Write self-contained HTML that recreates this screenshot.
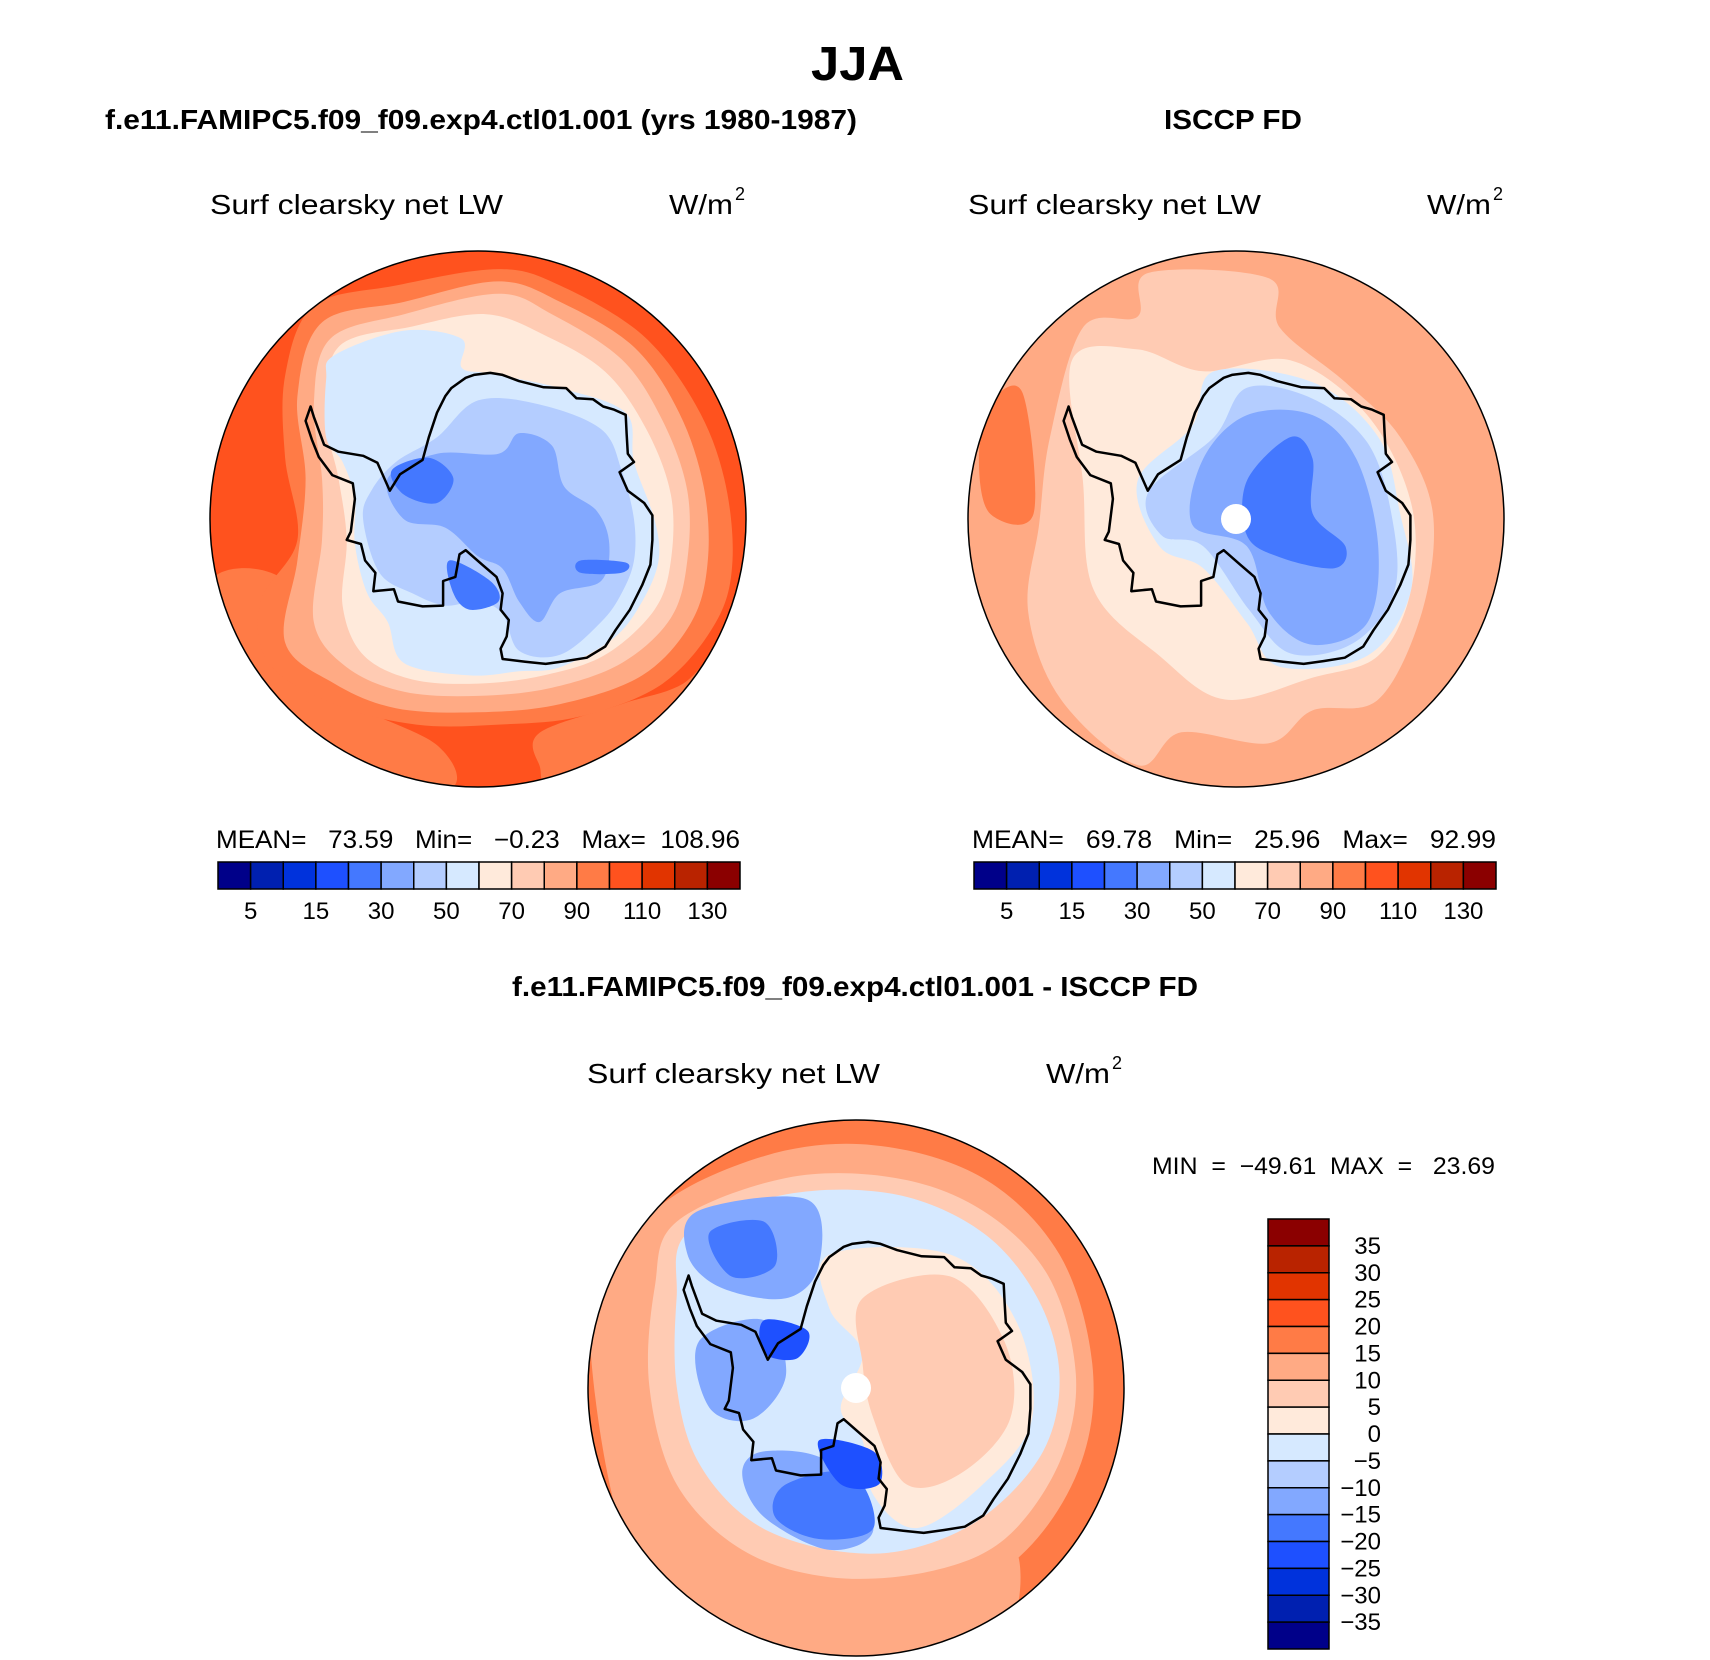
<!DOCTYPE html>
<html><head><meta charset="utf-8"><style>html,body{margin:0;padding:0;background:#fff}svg{display:block}text{font-family:"Liberation Sans",sans-serif;fill:#000}.pre{white-space:pre}</style></head>
<body>
<svg id="fig" width="1710" height="1660" viewBox="0 0 1710 1660" xmlns="http://www.w3.org/2000/svg">
<rect width="1710" height="1660" fill="#fff"/>
<text x="811" y="80" font-size="48" font-weight="bold" textLength="93" lengthAdjust="spacingAndGlyphs">JJA</text>
<text x="105" y="129" font-size="28" font-weight="bold" textLength="752" lengthAdjust="spacingAndGlyphs">f.e11.FAMIPC5.f09_f09.exp4.ctl01.001 (yrs 1980-1987)</text>
<text x="1164" y="129" font-size="28" font-weight="bold" textLength="138" lengthAdjust="spacingAndGlyphs">ISCCP FD</text>
<text x="512" y="996" font-size="28" font-weight="bold" textLength="686" lengthAdjust="spacingAndGlyphs">f.e11.FAMIPC5.f09_f09.exp4.ctl01.001 - ISCCP FD</text>
<g id="maps"></g>
</svg>
<script>
const NS="http://www.w3.org/2000/svg";
const palette=["#000089","#0020b0","#0032dc","#1e50ff","#4478ff","#82a8ff","#b4cdff","#d6e9ff","#ffeadb","#ffcbb3","#ffaa84","#ff7b46","#ff521e","#e13400","#b92300","#8b0000"];
const absTicks=["5","15","30","50","70","90","110","130"];
const absTickIdx=[1,3,5,7,9,11,13,15];
const diffTicks=["35","30","25","20","15","10","5","0","\u22125","\u221210","\u221215","\u221220","\u221225","\u221230","\u221235"];
const modelStats="MEAN=   73.59   Min=   \u22120.23   Max=  108.96";
const obsStats="MEAN=   69.78   Min=   25.96   Max=   92.99";
const diffStats="MIN  =  \u221249.61  MAX  =   23.69";
const coast=[[392,625],[380,660],[395,705],[412,748],[445,792],[495,812],[500,850],[490,930],[480,950],[515,960],[525,1000],[550,1030],[545,1075],[595,1070],[605,1100],[665,1112],[715,1110],[715,1050],[745,1040],[755,985],[770,975],[810,1010],[845,1040],[860,1080],[855,1120],[875,1145],[870,1185],[855,1215],[860,1240],[915,1247],[965,1252],[1015,1245],[1065,1237],[1110,1210],[1135,1170],[1170,1120],[1200,1060],[1220,1010],[1225,950],[1225,890],[1205,860],[1165,830],[1145,785],[1180,760],[1165,740],[1162,690],[1160,645],[1130,632],[1105,625],[1080,607],[1040,605],[1015,580],[960,578],[900,563],[860,548],[830,543],[790,548],[770,555],[735,580],[720,600],[700,640],[680,700],[665,755],[610,790],[585,830],[555,762],[520,745],[460,735],[425,718],[400,650]];
const modelBg=12;
const modelLayers=[
[11,[[150,1050],[330,1050],[420,1300],[700,1450],[720,1560],[400,1500],[200,1300]]],
[11,[[950,1420],[1150,1350],[1300,1300],[1400,1200],[1300,1450],[1000,1560],[950,1500]]],
[11,[[400,380],[600,330],[850,290],[1000,330],[1200,450],[1330,620],[1400,800],[1420,1000],[1380,1150],[1250,1300],[1050,1380],[850,1400],[650,1400],[450,1350],[290,1250],[270,1100],[360,950],[330,750],[330,550]]],
[10,[[420,420],[620,370],[850,320],[1000,370],[1180,480],[1290,640],[1350,820],[1360,1000],[1320,1150],[1200,1280],[1000,1350],[800,1370],[600,1360],[450,1300],[330,1200],[360,1000],[380,800],[360,600]]],
[9,[[440,460],[620,400],[850,350],[980,400],[1150,510],[1250,660],[1310,830],[1310,1000],[1270,1140],[1150,1250],[980,1310],[800,1330],[620,1320],[480,1260],[400,1150],[420,950],[420,800],[400,620]]],
[8,[[460,480],[640,430],[820,400],[960,450],[1110,540],[1210,680],[1270,840],[1270,1000],[1230,1120],[1110,1230],[960,1280],[800,1300],[640,1290],[520,1230],[470,1110],[480,950],[460,800],[430,650]]],
[7,[[450,500],[620,440],[760,460],[760,530],[830,545],[1000,580],[1160,640],[1180,760],[1230,900],[1240,1000],[1200,1100],[1130,1190],[1000,1260],[900,1270],[780,1280],[620,1250],[580,1150],[530,1080],[500,960],[500,850],[470,760],[430,700],[430,560]]],
[6,[[600,760],[700,700],[800,610],[950,620],[1100,680],[1150,780],[1180,900],[1180,1000],[1150,1080],[1100,1150],[1000,1230],[900,1220],[860,1130],[800,1100],[720,1110],[640,1080],[560,1030],[520,900],[540,830]]],
[5,[[580,800],[700,740],[850,740],[900,690],[980,720],[1010,820],[1090,880],[1120,960],[1100,1050],[1000,1080],[950,1150],[900,1100],[860,1020],[800,990],[720,920],[620,900]]],
[4,[[590,780],[680,750],[740,800],[700,860],[620,840]]],
[4,[[730,1000],[830,1050],[850,1100],[780,1120],[740,1080]]],
[4,[[1050,1000],[1160,1005],[1150,1030],[1050,1030]]]
];
const obsBg=10;
const obsLayers=[
[11,[[905,370],[935,360],[945,470],[905,470],[895,420]]],
[9,[[990,300],[1040,290],[1050,250],[1160,255],[1170,300],[1230,350],[1280,400],[1310,470],[1300,560],[1260,640],[1200,650],[1160,680],[1080,670],[1040,700],[970,640],[940,560],[950,480],[960,400]]],
[8,[[980,330],[1040,320],[1100,340],[1180,330],[1250,380],[1290,460],[1290,540],[1260,600],[1200,620],[1120,640],[1060,600],[1000,540],[990,440]]],
[7,[[1040,440],[1090,390],[1110,340],[1200,350],[1260,400],[1280,470],[1290,540],[1250,600],[1170,610],[1140,570],[1100,520],[1060,500]]],
[6,[[1050,450],[1110,400],[1140,355],[1200,365],[1250,405],[1272,470],[1275,540],[1238,588],[1180,598],[1142,558],[1100,500],[1062,490]]],
[5,[[1100,420],[1140,380],[1200,380],[1240,420],[1260,500],[1250,570],[1200,590],[1160,560],[1140,500],[1090,480]]],
[4,[[1140,440],[1180,400],[1200,420],[1200,470],[1230,500],[1220,520],[1170,510],[1140,490]]]
];
const diffBg=11;
const diffLayers=[
[10,[[540,1180],[600,1110],[620,1300],[700,1420],[850,1450],[930,1420],[900,1520],[700,1525],[580,1430]]],
[10,[[600,1110],[700,1060],[800,1050],[900,1080],[970,1150],[1000,1250],[990,1340],[940,1420],[860,1470],[760,1480],[660,1450],[590,1380],[560,1290],[565,1190]]],
[9,[[620,1120],[720,1080],[820,1080],[900,1110],[960,1170],[985,1260],[970,1340],[920,1410],[850,1440],[760,1445],[680,1420],[620,1360],[595,1270],[600,1180]]],
[7,[[630,1130],[720,1095],[820,1095],[900,1130],[950,1190],[970,1260],[955,1330],[900,1390],[830,1420],[760,1420],[690,1395],[640,1340],[620,1270],[620,1190]]],
[8,[[760,1150],[870,1150],[930,1210],[945,1300],[900,1360],[840,1400],[800,1370],[790,1320],[770,1290],[790,1240],[760,1200]]],
[9,[[790,1190],[870,1170],[920,1230],[925,1300],[880,1350],[830,1360],[800,1300],[790,1250]]],
[5,[[640,1110],[740,1100],[750,1160],[720,1190],[660,1180],[630,1150]]],
[5,[[700,1330],[760,1340],[800,1400],[760,1420],[700,1390],[680,1350]]],
[5,[[640,1230],[700,1210],[720,1260],[690,1300],[650,1290]]],
[4,[[650,1130],[700,1120],[710,1160],[670,1170]]],
[4,[[720,1360],[780,1350],[800,1400],[750,1410],[710,1390]]],
[3,[[700,1210],[740,1220],[730,1245],[700,1240]]],
[3,[[750,1320],[800,1330],[805,1360],[770,1360]]]
];

const maps=document.getElementById('maps');
function mk(tag,attrs,parent){const e=document.createElementNS(NS,tag);for(const k in attrs)e.setAttribute(k,attrs[k]);(parent||maps).appendChild(e);return e;}
function smooth(pts){let d="M"+pts[0][0].toFixed(1)+","+pts[0][1].toFixed(1);const n=pts.length;
for(let i=0;i<n;i++){const p0=pts[(i-1+n)%n],p1=pts[i],p2=pts[(i+1)%n],p3=pts[(i+2)%n];
d+="C"+(p1[0]+(p2[0]-p0[0])/6).toFixed(1)+","+(p1[1]+(p2[1]-p0[1])/6).toFixed(1)+" "+(p2[0]-(p3[0]-p1[0])/6).toFixed(1)+","+(p2[1]-(p3[1]-p1[1])/6).toFixed(1)+" "+p2[0].toFixed(1)+","+p2[1].toFixed(1);}
return d+"Z";}
let clipN=0;
function drawMap(name,cx,cy,R,bg,layers,src,hole){
  const g=mk('g',{});
  
  
  const cid='clip'+(clipN++);
  const cp=mk('clipPath',{id:cid},g);mk('circle',{cx:cx,cy:cy,r:R},cp);
  const inner=mk('g',{'clip-path':'url(#'+cid+')'},g);
  const bgc=mk('circle',{cx:cx,cy:cy,r:R,fill:palette[bg]},inner);
  
  
  const tr=p=>[cx+(p[0]-src[0])/src[2]*R,cy+(p[1]-src[1])/src[2]*R];
  layers.forEach(L=>{const p=mk('path',{d:smooth(L[1].map(tr)),fill:palette[L[0]]},inner);
    
    });
  const ct=coast.map(p=>[cx+(p[0]-800)/653*R,cy+(p[1]-899)/653*R]);
  const cl=mk('polygon',{points:ct.map(p=>p[0].toFixed(1)+","+p[1].toFixed(1)).join(" "),fill:"none",stroke:"#000","stroke-width":2.5,"stroke-linejoin":"round"},inner);
  
  
  if(hole){const h=mk('circle',{cx:cx,cy:cy,r:15,fill:'#fff'},inner);
    
    }
  const o=mk('circle',{cx:cx,cy:cy,r:R,fill:'none',stroke:'#000','stroke-width':1.5},g);
  
  
}
function label(x,y,txt,name,dx){
  const t=mk('text',{x:x,y:y,'font-size':28,textLength:293,lengthAdjust:'spacingAndGlyphs'});t.textContent=txt;
  
  
  const u=mk('text',{x:x+dx,y:y,'font-size':28,textLength:64,lengthAdjust:'spacingAndGlyphs'});u.textContent='W/m';
  
  
  const s=mk('text',{x:x+dx+66,y:y-14,'font-size':18});s.textContent='2';
  
  
}
function hbar(x0,y0,w,h,stats,name){
  const st=mk('text',{x:x0-2,y:848,'font-size':25,textLength:524,lengthAdjust:'spacingAndGlyphs','class':'pre'});st.textContent=stats;
  
  
  const bw=w/palette.length;
  palette.forEach((c,i)=>{const r=mk('rect',{x:x0+i*bw,y:y0,width:bw,height:h,fill:c,stroke:'#000','stroke-width':1.5});
    
    });
  absTicks.forEach((t,i)=>{const e=mk('text',{x:x0+absTickIdx[i]*bw,y:y0+h+30,'font-size':24,'text-anchor':'middle'});e.textContent=t;
    
    });
}
label(210,214,'Surf clearsky net LW','variable-label',459);
drawMap('model-map',478,519,268,modelBg,modelLayers,[800,899,653],false);
hbar(218,862,522,27,modelStats,'model-colorbar');
label(968,214,'Surf clearsky net LW','variable-label',459);
drawMap('obs-map',1236,519,268,obsBg,obsLayers,[1130,475,245],true);
hbar(974,862,522,27,obsStats,'obs-colorbar');
label(587,1083,'Surf clearsky net LW','variable-label',459);
drawMap('diff-map',856,1388,268,diffBg,diffLayers,[784,1272,245],true);
const ms=mk('text',{x:1152,y:1174,'font-size':24,textLength:343,lengthAdjust:'spacingAndGlyphs','class':'pre'});ms.textContent=diffStats;


(function(){const x0=1268,y0=1219,w=61,H=430,bh=H/16;
 for(let i=0;i<16;i++){const r=mk('rect',{x:x0,y:y0+i*bh,width:w,height:bh,fill:palette[15-i],stroke:'#000','stroke-width':1.5});
   
   }
 diffTicks.forEach((t,i)=>{const e=mk('text',{x:1381,y:y0+(i+1)*bh+8,'font-size':24,'text-anchor':'end'});e.textContent=t;
   
   });
})();
</script>
</body></html>
